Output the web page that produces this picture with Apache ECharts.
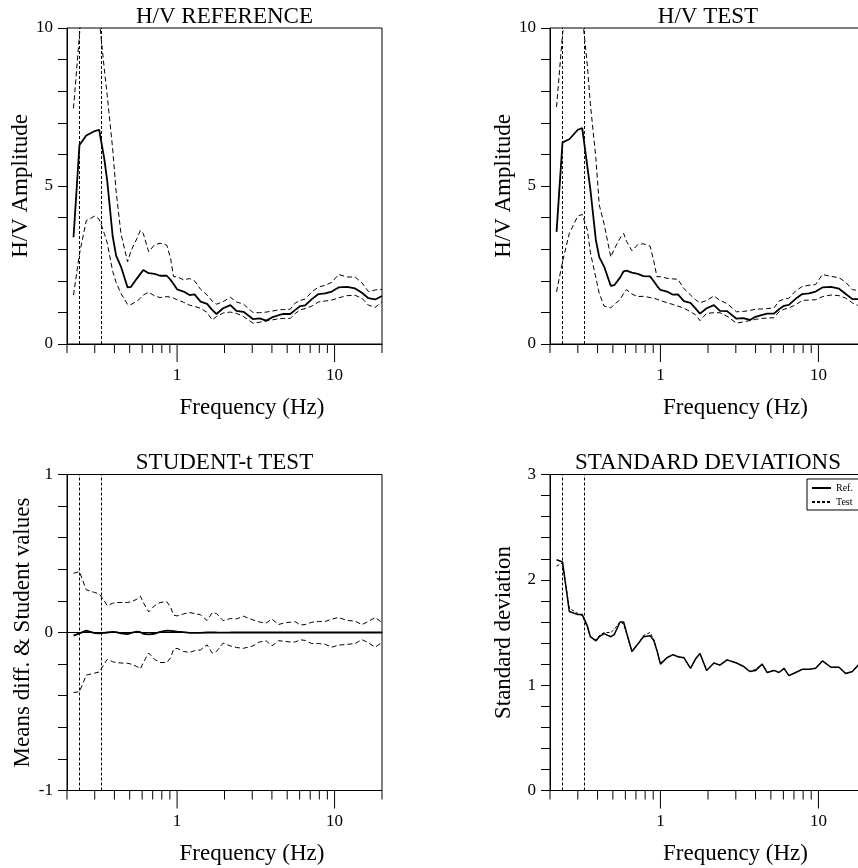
<!DOCTYPE html>
<html>
<head>
<meta charset="utf-8">
<script src="https://cdn.jsdelivr.net/npm/echarts@6/dist/echarts.min.js"></script>
<style>
  html, body { margin: 0; padding: 0; background: #fff; }
  #chart { width: 858px; height: 868px; }
</style>
</head>
<body>
<div id="chart"></div>
<script>
// frequency grid (Hz) shared by all panels
const freqs = [0.22, 0.24, 0.265, 0.30, 0.32, 0.345, 0.36, 0.39, 0.41, 0.44,
  0.485, 0.51, 0.555, 0.585, 0.61, 0.66, 0.72, 0.78, 0.86, 0.91,
  0.95, 1.0, 1.1, 1.2, 1.29, 1.41, 1.55, 1.67, 1.78, 1.96,
  2.18, 2.38, 2.64, 3.03, 3.34, 3.68, 4.0, 4.41, 4.74, 5.23,
  5.63, 6.06, 6.5, 7.17, 7.9, 8.72, 9.6, 10.6, 12.0, 13.5,
  14.9, 16.4, 18.1, 20]

// H/V reference
const refMean = [3.38, 6.3, 6.6, 6.74, 6.78, 5.86, 5.17, 3.41, 2.8, 2.45,
  1.79, 1.81, 2.07, 2.22, 2.34, 2.24, 2.22, 2.16, 2.16, 2.03,
  1.9, 1.73, 1.66, 1.55, 1.57, 1.34, 1.27, 1.08, 0.95, 1.13,
  1.23, 1.05, 1.02, 0.79, 0.81, 0.74, 0.84, 0.91, 0.95, 0.95,
  1.08, 1.2, 1.22, 1.42, 1.58, 1.6, 1.66, 1.79, 1.81, 1.76,
  1.62, 1.45, 1.41, 1.52]
const refUpper = [7.46, 9.8, 11.6, 11.8, 10.3, 8.7, 7.87, 6.17, 4.84, 3.5,
  2.6, 2.95, 3.33, 3.6, 3.5, 2.92, 3.14, 3.19, 3.13, 2.7,
  2.13, 2.13, 2.03, 2.07, 2.0, 1.73, 1.55, 1.36, 1.26, 1.34,
  1.48, 1.33, 1.26, 1.0, 0.99, 1.01, 1.04, 1.08, 1.09, 1.1,
  1.3, 1.38, 1.42, 1.65, 1.8, 1.86, 1.95, 2.2, 2.12, 2.12,
  1.94, 1.66, 1.71, 1.73]
const refLower = [1.55, 2.85, 3.9, 4.05, 3.95, 3.5, 3.2, 2.3, 1.95, 1.6,
  1.25, 1.25, 1.35, 1.45, 1.55, 1.64, 1.52, 1.47, 1.5, 1.48,
  1.45, 1.4, 1.32, 1.23, 1.19, 1.13, 1.0, 0.76, 0.87, 0.98,
  1.01, 0.97, 0.87, 0.66, 0.69, 0.73, 0.76, 0.8, 0.81, 0.81,
  0.97, 1.08, 1.12, 1.2, 1.33, 1.36, 1.39, 1.46, 1.53, 1.54,
  1.45, 1.23, 1.16, 1.34]

// H/V test
const testMean = [3.55, 6.38, 6.48, 6.78, 6.83, 5.6, 4.9, 3.3, 2.75, 2.45,
  1.84, 1.86, 2.1, 2.3, 2.32, 2.26, 2.22, 2.15, 2.14, 1.98,
  1.84, 1.71, 1.66, 1.56, 1.57, 1.36, 1.3, 1.12, 0.96, 1.13,
  1.23, 1.05, 1.04, 0.8, 0.82, 0.76, 0.86, 0.92, 0.96, 0.96,
  1.1, 1.21, 1.24, 1.43, 1.58, 1.6, 1.66, 1.79, 1.81, 1.75,
  1.58, 1.42, 1.42, 1.5]
const testUpper = [7.5, 9.8, 11.4, 11.7, 10.4, 8.8, 7.6, 5.9, 4.4, 3.8,
  2.75, 3.0, 3.35, 3.5, 3.25, 2.95, 3.15, 3.17, 3.1, 2.6,
  2.13, 2.13, 2.08, 2.06, 2.05, 1.75, 1.55, 1.4, 1.3, 1.38,
  1.52, 1.38, 1.28, 1.02, 1.03, 1.06, 1.1, 1.11, 1.12, 1.14,
  1.36, 1.42, 1.45, 1.68, 1.82, 1.86, 1.88, 2.2, 2.14, 2.1,
  1.95, 1.72, 1.69, 1.76]
const testLower = [1.65, 2.6, 3.5, 4.05, 4.1, 3.6, 2.9, 2.1, 1.6, 1.2,
  1.14, 1.25, 1.4, 1.6, 1.72, 1.58, 1.5, 1.51, 1.47, 1.45,
  1.42, 1.37, 1.31, 1.25, 1.2, 1.13, 1.02, 0.92, 0.74, 0.97,
  0.99, 0.99, 0.88, 0.66, 0.7, 0.74, 0.78, 0.81, 0.82, 0.83,
  1.02, 1.1, 1.14, 1.24, 1.38, 1.39, 1.4, 1.5, 1.55, 1.53,
  1.45, 1.3, 1.2, 1.3]

// Student-t test
const tMean = [-0.02, -0.005, 0.012, -0.004, -0.005, -0.003, 0.0, 0.004, 0.002, -0.006,
  -0.01, -0.002, 0.006, 0.002, -0.008, -0.012, -0.008, 0.004, 0.012, 0.01,
  0.008, 0.005, 0.002, -0.002, -0.003, -0.002, 0.0, 0.001, 0.0, -0.001,
  0.0, 0.001, 0.0, 0.0, 0.0, 0.001, 0.0, 0.0, 0.0, 0.0,
  0.001, 0.0, 0.0, 0.001, 0.0, 0.0, 0.0, 0.0, 0.0, 0.0,
  0.0, 0.0, 0.0, 0.0]
const tUpper = [0.375, 0.385, 0.27, 0.253, 0.245, 0.2, 0.17, 0.185, 0.19, 0.19,
  0.19, 0.195, 0.21, 0.23, 0.19, 0.13, 0.17, 0.19, 0.195, 0.16,
  0.11, 0.105, 0.118, 0.126, 0.12, 0.112, 0.076, 0.125, 0.12, 0.075,
  0.088, 0.086, 0.103, 0.08, 0.066, 0.06, 0.085, 0.05, 0.06, 0.065,
  0.068, 0.048, 0.05, 0.065, 0.07, 0.07, 0.085, 0.095, 0.076, 0.072,
  0.05, 0.07, 0.095, 0.063]
const tLower = [-0.38, -0.375, -0.27, -0.257, -0.25, -0.2, -0.17, -0.185, -0.19, -0.193,
  -0.195, -0.2, -0.215, -0.23, -0.19, -0.13, -0.17, -0.19, -0.19, -0.16,
  -0.105, -0.1, -0.12, -0.126, -0.115, -0.11, -0.078, -0.13, -0.12, -0.067,
  -0.085, -0.095, -0.1, -0.085, -0.06, -0.053, -0.085, -0.052, -0.055, -0.06,
  -0.06, -0.046, -0.05, -0.07, -0.07, -0.075, -0.093, -0.08, -0.075, -0.07,
  -0.045, -0.065, -0.093, -0.063]

// standard deviations
const stdRef = [2.19, 2.17, 1.7, 1.67, 1.67, 1.56, 1.46, 1.42, 1.46, 1.49,
  1.46, 1.48, 1.6, 1.6, 1.5, 1.32, 1.39, 1.46, 1.47, 1.42,
  1.33, 1.2, 1.26, 1.29, 1.27, 1.26, 1.16, 1.25, 1.3, 1.14,
  1.21, 1.19, 1.24, 1.21, 1.18, 1.13, 1.14, 1.2, 1.12, 1.14,
  1.12, 1.16, 1.09, 1.12, 1.15, 1.15, 1.16, 1.23, 1.17, 1.17,
  1.11, 1.13, 1.2, 1.27]
const stdTest = [2.13, 2.16, 1.73, 1.68, 1.66, 1.55, 1.46, 1.43, 1.47, 1.5,
  1.5, 1.53, 1.6, 1.58, 1.49, 1.32, 1.39, 1.47, 1.5, 1.43,
  1.33, 1.21, 1.26, 1.29, 1.27, 1.26, 1.16, 1.25, 1.3, 1.14,
  1.21, 1.19, 1.24, 1.21, 1.18, 1.13, 1.15, 1.2, 1.12, 1.14,
  1.12, 1.16, 1.09, 1.12, 1.15, 1.15, 1.16, 1.23, 1.17, 1.17,
  1.11, 1.13, 1.2, 1.27]

// window limits and log-axis ticks
const windowFreqs = [0.238, 0.327]
const minorTicks = [0.2, 0.3, 0.4, 0.5, 0.6, 0.7, 0.8, 0.9, 2, 3, 4, 5, 6, 7, 8, 9, 20]
const majorTicks = [1, 10]

const FONT = 'Liberation Serif'
const pairs = (arr) => freqs.map((f, i) => [f, arr[i]])

// right-hand panels run past the page edge, as in the original figure
const grids = [
  { left: 67, top: 28, width: 315, height: 316 },
  { left: 550, top: 28, right: -8, height: 316 },
  { left: 67, top: 474.5, width: 315, height: 316 },
  { left: 550, top: 474.5, right: -8, height: 316 }
]
const yRanges = [[0, 10, 1], [0, 10, 1], [-1, 1, 0.2], [0, 3, 0.2]]
const yNames = ['H/V Amplitude', 'H/V Amplitude', 'Means diff. & Student values', 'Standard deviation']
const titles = ['H/V REFERENCE', 'H/V TEST', 'STUDENT-t TEST', 'STANDARD DEVIATIONS']
const titleCenters = [224.5, 708, 224.5, 708]

const xAxes = grids.map((g, i) => ({
  type: 'log',
  logBase: 10,
  gridIndex: i,
  min: 0.2,
  max: 20,
  name: 'Frequency (Hz)',
  nameLocation: 'middle',
  nameGap: 52,
  nameTextStyle: { fontFamily: FONT, fontSize: 23, color: '#000', padding: [0, 0, 0, 55] },
  axisLine: { show: true, lineStyle: { color: '#000', width: 1 } },
  axisTick: { show: false },
  splitLine: { show: false },
  axisLabel: {
    fontFamily: FONT, fontSize: 17, color: '#000', margin: 23,
    formatter: (v) => {
      const e = Math.log10(v)
      return Math.abs(e - Math.round(e)) < 1e-6 ? String(Math.round(v)) : ''
    }
  }
}))

const yAxes = grids.map((g, i) => ({
  type: 'value',
  gridIndex: i,
  min: yRanges[i][0],
  max: yRanges[i][1],
  interval: yRanges[i][2],
  name: yNames[i],
  nameLocation: 'middle',
  nameGap: i === 3 ? 35 : 27,
  nameTextStyle: { fontFamily: FONT, fontSize: 23, color: '#000' },
  axisLine: { show: true, lineStyle: { color: '#000', width: 1 } },
  axisTick: { show: true, inside: false, length: 9, lineStyle: { color: '#000', width: 1 } },
  splitLine: { show: false },
  axisLabel: {
    fontFamily: FONT, fontSize: 17, color: '#000', margin: 14,
    formatter: (v) => {
      const step = i < 2 ? 5 : 1
      const r = Math.round(v / step) * step
      return Math.abs(v - r) < 1e-6 ? String(r) : ''
    }
  }
}))

function windowLines() {
  return {
    silent: true,
    symbol: 'none',
    label: { show: false },
    lineStyle: { color: '#000', width: 1, type: [3, 2] },
    data: windowFreqs.map(f => ({ xAxis: f }))
  }
}

function curve(name, i, arr, solid, width) {
  return {
    name: name,
    type: 'line',
    xAxisIndex: i,
    yAxisIndex: i,
    data: pairs(arr),
    symbol: 'none',
    showSymbol: false,
    silent: true,
    lineStyle: { color: '#000', width: width, type: solid ? 'solid' : [5, 3] },
    itemStyle: { color: '#000' }
  }
}

// log-axis ticks drawn below each x axis
function tickSeries(i) {
  const yMin = yRanges[i][0]
  return {
    type: 'custom',
    xAxisIndex: i,
    yAxisIndex: i,
    silent: true,
    clip: false,
    z: 5,
    data: minorTicks.concat(majorTicks).map(f => [f, yMin]),
    renderItem: (params, api) => {
      const f = api.value(0)
      const p = api.coord([f, api.value(1)])
      const len = majorTicks.includes(f) ? 18 : 9
      return {
        type: 'line',
        shape: { x1: p[0], y1: p[1], x2: p[0], y2: p[1] + len },
        style: { stroke: '#000', lineWidth: 1 }
      }
    }
  }
}

const hvRefMean = curve('refMean', 0, refMean, true, 1.8)
hvRefMean.markLine = windowLines()
const hvTestMean = curve('testMean', 1, testMean, true, 1.8)
hvTestMean.markLine = windowLines()
const tDiff = curve('tMean', 2, tMean, true, 1.8)
tDiff.markLine = windowLines()
const sdRef = curve('Ref.', 3, stdRef, true, 1.5)
sdRef.markLine = windowLines()
const sdTest = curve('Test', 3, stdTest, false, 1)
sdTest.lineStyle.type = [3, 2]

const series = [
  hvRefMean,
  curve('refUpper', 0, refUpper, false, 1),
  curve('refLower', 0, refLower, false, 1),
  hvTestMean,
  curve('testUpper', 1, testUpper, false, 1),
  curve('testLower', 1, testLower, false, 1),
  tDiff,
  curve('tUpper', 2, tUpper, false, 1),
  curve('tLower', 2, tLower, false, 1),
  sdRef,
  sdTest,
  tickSeries(0), tickSeries(1), tickSeries(2), tickSeries(3)
]

const titleText = titles.map((t, i) => ({
  type: 'text',
  x: titleCenters[i],
  y: i < 2 ? 17 : 463,
  silent: true,
  style: {
    text: t, fontFamily: FONT, fontSize: 23, fill: '#000',
    align: 'center', verticalAlign: 'middle'
  }
}))

const chart = echarts.init(document.getElementById('chart'), null, { renderer: 'canvas' })
chart.setOption({
  animation: false,
  backgroundColor: '#fff',
  grid: grids.map(g => ({
    ...g, show: true, borderColor: '#000', borderWidth: 1,
    backgroundColor: 'transparent', outerBoundsMode: 'none', containLabel: false
  })),
  xAxis: xAxes,
  yAxis: yAxes,
  legend: {
    data: ['Ref.', 'Test'],
    orient: 'vertical',
    left: 807,
    top: 479,
    padding: [4, 12, 3, 4],
    itemGap: 4,
    itemWidth: 19,
    itemHeight: 10,
    borderColor: '#000',
    borderWidth: 1,
    selectedMode: false,
    itemStyle: { opacity: 0 },
    textStyle: { fontFamily: FONT, fontSize: 10, color: '#000' }
  },
  graphic: titleText,
  series: series
})
</script>
</body>
</html>
